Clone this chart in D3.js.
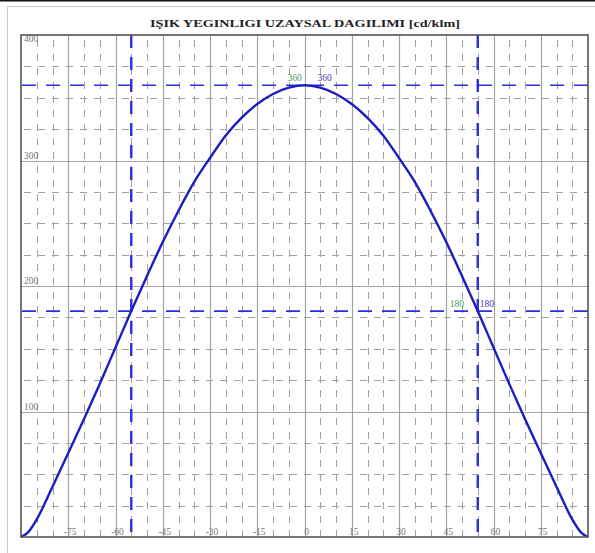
<!DOCTYPE html>
<html>
<head>
<meta charset="utf-8">
<script src="https://cdn.jsdelivr.net/npm/d3@7/dist/d3.min.js"></script>
<style>
  body { margin: 0; background: #fff; }
</style>
</head>
<body>
<div id="app"></div>
<script>
'use strict';

// açı (derece) ve ışık yeğinliği (cd/klm)
const angles    = [-90, -88, -85, -80, -75, -70, -65, -60, -55, -50, -45, -40, -35, -30, -25, -20, -15, -10, -5,
                   0, 5, 10, 15, 20, 25, 30, 35, 40, 45, 50, 55, 60, 65, 70, 75, 80, 85, 88, 90];
const intensity = [0, 3, 14, 40, 67, 94, 122, 151, 180, 208, 235, 260, 283, 302, 320, 334, 345, 353, 358,
                   360, 358, 353, 345, 334, 320, 302, 283, 260, 235, 208, 180, 151, 122, 94, 67, 40, 14, 3, 0];

const xTickLabels = [-75, -60, -45, -30, -15, 0, 15, 30, 45, 60, 75];
const yTickLabels = [100, 200, 300, 400];
const refAngles = [-55, 55];
const refValues = [360, 180];
const title = "IŞIK YEGINLIGI UZAYSAL DAGILIMI [cd/klm]";

const width = 595;
const height = 553;
const marginTop = 35;
const marginRight = 7;
const marginBottom = 16;
const marginLeft = 21;

const data = angles.map((a, i) => ({angle: a, value: intensity[i]}));

// ölçekler
const x = d3.scaleLinear()
  .domain([-90, 90])
  .range([marginLeft, width - marginRight]);

const y = d3.scaleLinear()
  .domain([0, 400])
  .range([height - marginBottom, marginTop]);

const svg = d3.select("#app")
  .append("svg")
  .attr("width", width)
  .attr("height", height)
  .attr("viewBox", [0, 0, width, height])
  .style("font-family", "'Liberation Serif', 'DejaVu Serif', serif");

// sayfa çerçevesi
svg.append("line")
  .attr("x1", 0).attr("x2", width).attr("y1", 0.75).attr("y2", 0.75)
  .attr("stroke", "#111").attr("stroke-width", 1.5);
svg.append("path")
  .attr("d", `M${width},6.5H7.5V${height}`)
  .attr("fill", "none").attr("stroke", "#c8c8c8").attr("stroke-width", 1);

// başlık
svg.append("text")
  .attr("x", 305)
  .attr("y", 27)
  .attr("text-anchor", "middle")
  .attr("font-size", 11)
  .attr("font-weight", "bold")
  .attr("fill", "#222")
  .attr("textLength", 310)
  .attr("lengthAdjust", "spacingAndGlyphs")
  .text(title);

const x0 = x.range()[0], x1 = x.range()[1];
const y0 = y.range()[1], y1 = y.range()[0];

// ara ızgara (kesikli)
const minorX = d3.range(-85, 90, 5).filter(d => d % 15 !== 0);
const minorY = d3.range(25, 400, 25).filter(d => d % 100 !== 0);

const grid = svg.append("g");
grid.append("g")
  .attr("stroke", "#a0a0a0")
  .attr("stroke-width", 1)
  .attr("stroke-dasharray", "7,7")
  .selectAll("line")
  .data(minorX)
  .join("line")
    .attr("x1", d => Math.round(x(d)) + 0.5)
    .attr("x2", d => Math.round(x(d)) + 0.5)
    .attr("y1", y0 + 5)
    .attr("y2", y1);
grid.append("g")
  .attr("stroke", "#a0a0a0")
  .attr("stroke-width", 1)
  .attr("stroke-dasharray", "7,7")
  .selectAll("line")
  .data(minorY)
  .join("line")
    .attr("y1", d => Math.round(y(d)) + 0.5)
    .attr("y2", d => Math.round(y(d)) + 0.5)
    .attr("x1", x0 + 3)
    .attr("x2", x1);

// ana ızgara (düz)
grid.append("g")
  .attr("stroke", "#a3a3a3")
  .attr("stroke-width", 1.2)
  .selectAll("line")
  .data(xTickLabels)
  .join("line")
    .attr("x1", d => Math.round(x(d)) + 0.5)
    .attr("x2", d => Math.round(x(d)) + 0.5)
    .attr("y1", y0)
    .attr("y2", y1);
grid.append("g")
  .attr("stroke", "#a3a3a3")
  .attr("stroke-width", 1.2)
  .selectAll("line")
  .data(yTickLabels.filter(d => d < 400))
  .join("line")
    .attr("y1", d => Math.round(y(d)) + 0.5)
    .attr("y2", d => Math.round(y(d)) + 0.5)
    .attr("x1", x0)
    .attr("x2", x1);

// eksen etiketleri
svg.append("g")
  .attr("font-size", 9.5)
  .attr("fill", "#777")
  .attr("text-anchor", "middle")
  .selectAll("text")
  .data(xTickLabels)
  .join("text")
    .attr("x", d => x(d) + 2)
    .attr("y", y1 - 2)
    .text(d => d);

svg.append("g")
  .attr("font-size", 9.5)
  .attr("fill", "#777")
  .selectAll("text")
  .data(yTickLabels)
  .join("text")
    .attr("x", x0 + 3)
    .attr("y", d => d === 400 ? y(d) + 7 : y(d) - 2)
    .text(d => d);

// referans çizgileri
const refColor = "#2e2ee0";
svg.append("g")
  .attr("stroke", refColor)
  .attr("stroke-width", 1.6)
  .attr("stroke-dasharray", "14,10")
  .selectAll("line")
  .data(refValues)
  .join("line")
    .attr("x1", x0 + 1)
    .attr("x2", x1)
    .attr("y1", d => y(d))
    .attr("y2", d => y(d));

svg.append("g")
  .attr("stroke", refColor)
  .attr("stroke-width", 2.4)
  .attr("stroke-dasharray", "13,9")
  .selectAll("line")
  .data(refAngles)
  .join("line")
    .attr("x1", d => x(d))
    .attr("x2", d => x(d))
    .attr("y1", y0)
    .attr("y2", y1);

// eğri
const line = d3.line()
  .x(d => x(d.angle))
  .y(d => y(d.value))
  .curve(d3.curveCatmullRom);

svg.append("path")
  .datum(data)
  .attr("fill", "none")
  .attr("stroke", "#1c1cc4")
  .attr("stroke-width", 2.4)
  .attr("d", line);

// çerçeve
svg.append("rect")
  .attr("x", x0)
  .attr("y", y0)
  .attr("width", x1 - x0)
  .attr("height", y1 - y0)
  .attr("fill", "none")
  .attr("stroke", "#555")
  .attr("stroke-width", 1.6);

// değer etiketleri
const valueLabels = [
  {text: "360", angle: 0, value: 360, dx: -17, dy: -4, color: "#3f9a5f"},
  {text: "360", angle: 0, value: 360, dx: 13, dy: -4, color: "#4a3aa6"},
  {text: "180", angle: 55, value: 180, dx: -28, dy: -4, color: "#3f9a5f"},
  {text: "180", angle: 55, value: 180, dx: 2, dy: -4, color: "#4a3aa6"}
];
svg.append("g")
  .attr("font-size", 9.5)
  .selectAll("text")
  .data(valueLabels)
  .join("text")
    .attr("x", d => x(d.angle) + d.dx)
    .attr("y", d => y(d.value) + d.dy)
    .attr("fill", d => d.color)
    .text(d => d.text);
</script>
</body>
</html>
